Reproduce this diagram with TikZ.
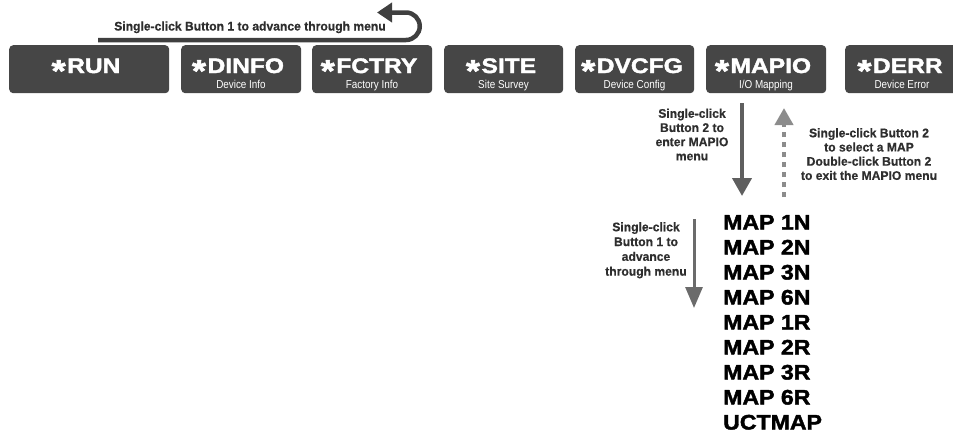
\documentclass[tikz,border=0pt]{standalone}
\usepackage{fontspec}
\setmainfont{Liberation Sans}
\newfontfamily\heavyfont[FakeBold=2,FakeStretch=1.17]{Liberation Sans Bold}
\newfontfamily\mapfont[FakeBold=2,FakeStretch=1.1]{Liberation Sans Bold}
\newfontfamily\labfont[FakeStretch=0.97,FakeBold=0.6]{Liberation Sans Bold}
\newfontfamily\subfont[FakeStretch=0.86]{Liberation Sans}
\usetikzlibrary{arrows.meta}
\definecolor{boxgray}{HTML}{464646}
\definecolor{toparrowc}{HTML}{3F3F3F}
\definecolor{labgray}{HTML}{2E2E2E}
\definecolor{downc}{HTML}{5F5F5F}
\definecolor{dashc}{HTML}{8C8C8C}
\definecolor{leftc}{HTML}{6B6B6B}
\newcommand\myast{\smash{\raisebox{-8.5pt}{\fontsize{31}{31}\selectfont*}}\kern1.5pt}
\begin{document}
\begin{tikzpicture}[x=1pt,y=-1pt,
  menubox/.style={fill=boxgray, draw=none, rounded corners=4pt, minimum height=48pt, inner sep=0pt, anchor=north west},
  boxtitle/.style={anchor=base, text=white, inner sep=0pt, font=\heavyfont\fontsize{21}{21}\selectfont},
  boxsub/.style={anchor=base, text=white, inner sep=0pt, font=\subfont\fontsize{11.5}{12}\selectfont},
  lab/.style={anchor=north, align=center, text=labgray, inner sep=0pt, font=\labfont\fontsize{12.5}{14.2}\selectfont},
  maptext/.style={anchor=base west, inner sep=0pt, text=black, font=\mapfont\fontsize{21}{21}\selectfont},
  toparrow/.style={draw=toparrowc, line width=4.5pt, -{Triangle[length=15pt,width=19pt]}},
  downarrow/.style={draw=downc, line width=4pt, -{Triangle[length=18pt,width=19pt]}},
  dasharrow/.style={draw=dashc, line width=4pt, dash pattern=on 5pt off 5pt, -{Triangle[length=17pt,width=18pt]}},
  leftarrow/.style={draw=leftc, line width=3pt, -{Triangle[length=21pt,width=17pt]}}
]
\useasboundingbox (0,0) rectangle (953,434);

% menu boxes
\node[menubox, minimum width=160pt] (run) at (9,45) {};
\node[menubox, minimum width=120pt] (dinfo) at (181,45) {};
\node[menubox, minimum width=120pt] (fctry) at (312,45) {};
\node[menubox, minimum width=119pt] (site) at (444,45) {};
\node[menubox, minimum width=119pt] (dvcfg) at (575,45) {};
\node[menubox, minimum width=120pt] (mapio) at (706,45) {};
\node[menubox, minimum width=120pt] (derr) at (845,45) {};

\node[boxtitle] (runT) at (86,73) {\myast RUN};
\node[boxtitle] (dinfoT) at (238,73) {\myast DINFO};
\node[boxtitle] (fctryT) at (369,73) {\myast FCTRY};
\node[boxtitle] (siteT) at (501,73) {\myast SITE};
\node[boxtitle] (dvcfgT) at (632,73) {\myast DVCFG};
\node[boxtitle] (mapioT) at (763,73) {\myast MAPIO};
\node[boxtitle] (derrT) at (900,73) {\myast DERR};

\node[boxsub] (dinfoS) at (241,88) {Device Info};
\node[boxsub] (fctryS) at (372,88) {Factory Info};
\node[boxsub] (siteS) at (503.5,88) {Site Survey};
\node[boxsub] (dvcfgS) at (634.5,88) {Device Config};
\node[boxsub] (mapioS) at (766,88) {I/O Mapping};
\node[boxsub] (derrS) at (902,88) {Device Error};

% top arrow
\coordinate (ta) at (98,40);
\coordinate (tc) at (406,40);
\coordinate (tb) at (377,12.5);
\draw[toparrow] (ta) -- (tc) arc[start angle=90, end angle=-90, radius=13.75] -- (tb);
\node[anchor=base, inner sep=0pt, text=labgray, font=\labfont\fontsize{12.5}{14}\selectfont] (toplab) at (250,30.5) {Single-click Button 1 to advance through menu};

% MAPIO arrows
\coordinate (d1) at (742,103);
\coordinate (d2) at (742,196);
\draw[downarrow] (d1) -- (d2);
\coordinate (u1) at (784,197);
\coordinate (u2) at (784,108);
\draw[dasharrow] (u1) -- (u2);
\coordinate (m1) at (694,219);
\coordinate (m2) at (694,308);
\draw[leftarrow] (m1) -- (m2);

\node[lab] (enterlab) at (692,108.5) {Single-click\\Button 2 to\\enter MAPIO\\menu};
\node[lab] (selectlab) at (869,128) {Single-click Button 2\\to select a MAP\\Double-click Button 2\\to exit the MAPIO menu};
\node[lab, font=\labfont\fontsize{12.5}{14.8}\selectfont] (advlab) at (646,222) {Single-click\\Button 1 to\\advance\\through menu};

% MAP list
\foreach \t [count=\i from 0] in {MAP 1N, MAP 2N, MAP 3N, MAP 6N, MAP 1R, MAP 2R, MAP 3R, MAP 6R, UCTMAP}
  \node[maptext] (map\i) at (723,229.5+25*\i) {\t};
\end{tikzpicture}
\end{document}
